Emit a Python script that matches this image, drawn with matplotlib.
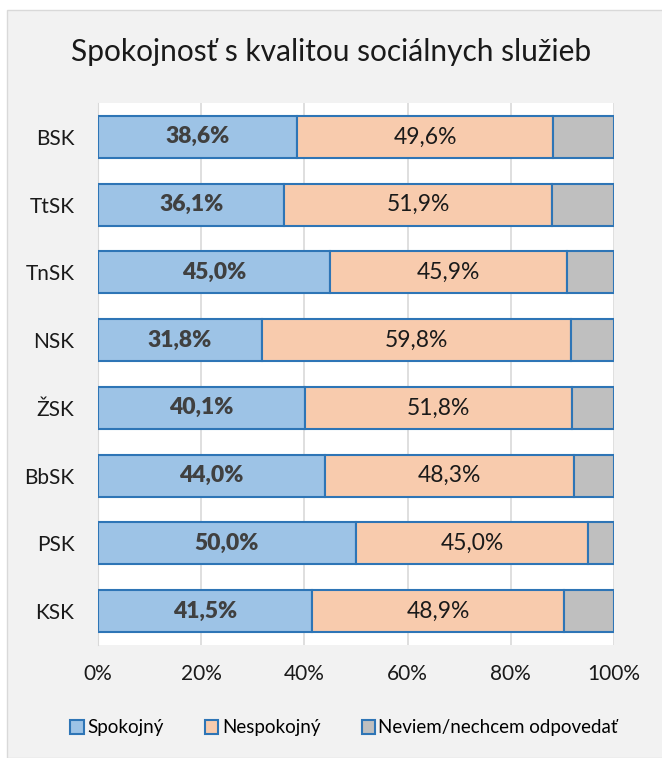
import matplotlib.pyplot as plt
from matplotlib.patches import Rectangle

plt.rcParams['font.family'] = ['Lato', 'DejaVu Sans']

regions = ['BSK', 'TtSK', 'TnSK', 'NSK', 'ŽSK', 'BbSK', 'PSK', 'KSK']
spokojny = [38.6, 36.1, 45.0, 31.8, 40.1, 44.0, 50.0, 41.5]
nespokojny = [49.6, 51.9, 45.9, 59.8, 51.8, 48.3, 45.0, 48.9]
neviem = [round(100 - a - b, 1) for a, b in zip(spokojny, nespokojny)]
series_names = ['Spokojný', 'Nespokojný', 'Neviem/nechcem odpovedať']

c_blue = '#9DC3E6'
c_peach = '#F8CBAD'
c_gray = '#BFBFBF'
edge = '#2E75B6'

fig = plt.figure(figsize=(6.62, 7.58), dpi=100, facecolor='white')
# chart area background with border
fig.patches.append(Rectangle((7 / 662, 0), 1, 1 - 10 / 758, transform=fig.transFigure,
                             facecolor='#F2F2F2', edgecolor='#D9D9D9', lw=1, zorder=-10))

ax = fig.add_axes([98 / 662, 113 / 758, 516 / 662, 542 / 758])
ax.set_facecolor('white')

y = list(range(len(regions)))
h = 0.62
b1 = ax.barh(y, spokojny, height=h, color=c_blue, edgecolor=edge, lw=1.5, label=series_names[0], zorder=3)
b2 = ax.barh(y, nespokojny, left=spokojny, height=h, color=c_peach, edgecolor=edge, lw=1.5,
             label=series_names[1], zorder=3)
left3 = [a + b for a, b in zip(spokojny, nespokojny)]
b3 = ax.barh(y, neviem, left=left3, height=h, color=c_gray, edgecolor=edge, lw=1.5,
             label=series_names[2], zorder=3)

for i in y:
    ax.text(spokojny[i] / 2, i, f'{spokojny[i]:.1f}%'.replace('.', ','), ha='center', va='center',
            fontsize=16.5, fontweight='heavy', color='#404040', zorder=4)
    ax.text(spokojny[i] + nespokojny[i] / 2, i, f'{nespokojny[i]:.1f}%'.replace('.', ','),
            ha='center', va='center', fontsize=16.5, color='#1a1a1a', zorder=4)

ax.set_xlim(0, 100)
ax.set_ylim(len(regions) - 0.5, -0.5)
ax.set_xticks([0, 20, 40, 60, 80, 100])
ax.set_xticklabels(['0%', '20%', '40%', '60%', '80%', '100%'])
ax.set_yticks(y)
ax.set_yticklabels(regions)
ax.tick_params(length=0, labelsize=15, colors='#1a1a1a')
ax.tick_params(axis='x', pad=14)
ax.tick_params(axis='y', pad=17)
ax.grid(axis='x', color='#D9D9D9', lw=1.2, zorder=0)
for s in ['top', 'right', 'bottom']:
    ax.spines[s].set_visible(False)
ax.spines['left'].set_color('#D9D9D9')

fig.text(0.5, 1 - 52 / 758, 'Spokojnosť s kvalitou sociálnych služieb', ha='center', va='center',
         fontsize=21.5, color='#1a1a1a')

fig.legend(handles=[b1, b2, b3], loc='center', bbox_to_anchor=(0.52, 1 - 728 / 758), ncol=3,
           frameon=False, fontsize=13.5, handlelength=0.7, handleheight=0.7, handletextpad=0.2,
           columnspacing=2.2)

fig.savefig('out.png', dpi=100, facecolor=fig.get_facecolor())
